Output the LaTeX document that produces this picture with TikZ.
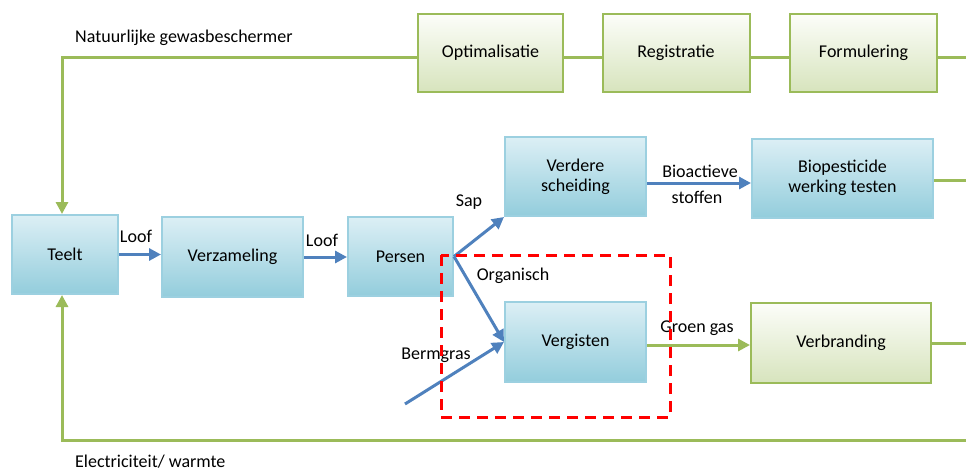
\documentclass[tikz,border=0pt]{standalone}
\usepackage{fontspec}
\setmainfont{Carlito}
\usetikzlibrary{arrows.meta,calc}
\definecolor{blueTop}{HTML}{DCEFF5}
\definecolor{blueBot}{HTML}{93CDDC}
\definecolor{blueEdge}{HTML}{9CD0E0}
\definecolor{greenTop}{HTML}{FCFDF9}
\definecolor{greenBot}{HTML}{D7E4BD}
\definecolor{greenEdge}{HTML}{9BBB59}
\definecolor{flowBlue}{HTML}{4F81BD}
\begin{document}
\begin{tikzpicture}[x=1pt,y=-1pt,
  font=\fontsize{18}{22}\selectfont,
  bluebox/.style={draw=blueEdge,line width=2pt,top color=blueTop,bottom color=blueBot,
    align=center,inner sep=0pt,minimum width=#1},
  bluebox/.default=141pt,
  greenbox/.style={draw=greenEdge,line width=2pt,top color=greenTop,bottom color=greenBot,
    align=center,inner sep=0pt,minimum width=#1},
  greenbox/.default=145pt,
  flow/.style={draw=flowBlue,line width=3pt,-{Triangle[length=12pt,width=12pt]}},
  loop/.style={draw=greenEdge,line width=3pt},
  looparrow/.style={draw=greenEdge,line width=3pt,-{Triangle[length=12pt,width=12pt]}},
  lbl/.style={inner sep=0pt},
  zone/.style={draw=red,line width=3pt,dash pattern=on 11pt off 7pt}
]
\useasboundingbox (0,0) rectangle (966,471);

% process boxes
\node[bluebox=106pt,minimum height=79pt] (teelt) at (65,254.5) {Teelt};
\node[bluebox,minimum height=80pt] (verz) at (232.5,257) {Verzameling};
\node[bluebox=105pt,minimum height=79pt] (persen) at (400.5,256.5) {Persen};
\node[bluebox,minimum height=79pt] (verdere) at (575.5,176.5) {Verdere\\[-2pt]scheiding};
\node[bluebox=181pt,minimum height=79pt] (bio) at (842.5,178) {Biopesticide\\[-2pt]werking testen};
\node[bluebox,minimum height=80pt] (verg) at (575.5,342) {Vergisten};
\node[greenbox=180pt,minimum height=80pt] (verb) at (841,343) {Verbranding};
\node[greenbox,minimum height=78pt] (opt) at (490.5,53) {Optimalisatie};
\node[greenbox=147pt,minimum height=78pt] (reg) at (676,53) {Registratie};
\node[greenbox=147pt,minimum height=78pt] (form) at (863.5,53) {Formulering};

% helper points for the loops
\coordinate (topy) at (0,57);
\coordinate (boty) at (0,440);
\coordinate (looplx) at (62,0);
\coordinate (topend) at (966,57);
\coordinate (bioend) at (966,180);
\coordinate (verbend) at (966,343);
\coordinate (botend) at (966,440);
\coordinate (berm) at (405,404);

% green feedback lines
\draw[looparrow] (opt.west |- topy) -| (looplx |- teelt.north);
\draw[loop] (opt.east |- topy) -- (reg.west |- topy);
\draw[loop] (reg.east |- topy) -- (form.west |- topy);
\draw[loop] (form.east |- topy) -- (topend);
\draw[loop] (bio.east |- bioend) -- (bioend);
\draw[loop] (verb.east) -- (verbend);
\draw[looparrow] (botend) -- (looplx |- boty) -- (looplx |- teelt.south);

% main flow
\draw[flow] (teelt.east) -- (teelt.east -| verz.west);
\draw[flow] (verz.east) -- (verz.east -| persen.west);
\draw[flow] (persen.east) -- (verdere.south west);
\draw[flow] (persen.east) -- (verg.west);
\draw[flow] (berm) -- (verg.west);
\draw[flow] (verdere.east |- 0,183) -- (bio.west |- 0,183);
\draw[looparrow] (verg.east |- 0,345) -- (verb.west |- 0,345);

% labels
\node[lbl] (l1) at (136,236) {Loof};
\node[lbl] (l2) at (322,240) {Loof};
\node[lbl] (lsap) at (469,202) {Sap};
\node[lbl] (lorg) at (513,276) {Organisch};
\node[lbl] (lberm) at (436,355) {Bermgras};
\node[lbl] (lbio) at (700,171) {Bioactieve};
\node[lbl] (lstof) at (697,197) {stoffen};
\node[lbl] (lgas) at (697,328) {Groen gas};
\node[lbl,anchor=west] (lnat) at (75,38) {Natuurlijke gewasbeschermer};
\node[lbl,anchor=west] (lel) at (75,462) {Electriciteit/ warmte};

% highlighted area
\draw[zone] (441,255) rectangle (670,417);
\end{tikzpicture}
\end{document}
